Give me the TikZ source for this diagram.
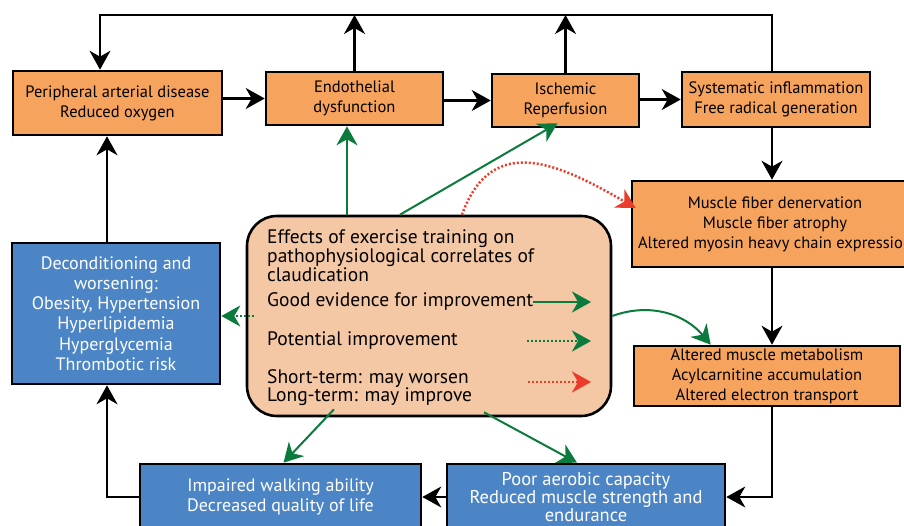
\documentclass[tikz,border=0pt]{standalone}
\usepackage{fontspec}
\setmainfont{PT Sans}
\usetikzlibrary{arrows.meta,calc}
\definecolor{causeorange}{HTML}{F6A35E}
\definecolor{effectpeach}{HTML}{F4C7A5}
\definecolor{outblue}{HTML}{4C85C6}
\definecolor{evgreen}{HTML}{0B7B3D}
\definecolor{worsered}{HTML}{EE3A2B}
\begin{document}
\begin{tikzpicture}
  [x=1pt,y=1pt,
   every node/.style={inner sep=0pt,align=center,font=\fontsize{16.5}{20}\selectfont},
   cause/.style={draw=black,line width=2.6pt,fill=causeorange},
   outcome/.style={draw=black,line width=2.6pt,fill=outblue,text=white},
   legend/.style={anchor=west,align=left,font=\fontsize{19.5}{19}\selectfont},
   tip/.style={-{Stealth[length=19pt,width=21pt,inset=6pt]}},
   blk/.style={tip,line width=2.2pt},
   good/.style={tip,draw=evgreen,line width=2pt},
   maybe/.style={tip,draw=evgreen,line width=2.5pt,dash pattern=on 2pt off 2pt},
   worse/.style={tip,draw=worsered,line width=2.5pt,dash pattern=on 2pt off 2pt}]
  \useasboundingbox (0,0) rectangle (904,525);

  \node[cause,minimum width=209,minimum height=64] (pad) at (117.5,422)
    {Peripheral arterial disease\\Reduced oxygen};
  \node[cause,minimum width=177,minimum height=53] (endo) at (354.5,426.5)
    {Endothelial\\dysfunction};
  \node[cause,minimum width=147,minimum height=53] (isch) at (565.5,424.5)
    {Ischemic\\Reperfusion};
  \node[cause,minimum width=188,minimum height=55] (sys) at (776,425.5)
    {Systematic inflammation\\Free radical generation};
  \node[cause,minimum width=286,minimum height=86] (fiber) at (775,301)
    {Muscle fiber denervation\\Muscle fiber atrophy\\Altered myosin heavy chain expression};
  \node[cause,minimum width=266,minimum height=60] (alt) at (767,149)
    {Altered muscle metabolism\\Acylcarnitine accumulation\\Altered electron transport};
  \node[outcome,minimum width=278,minimum height=66,font=\fontsize{18.5}{18}\selectfont] (poor) at (586,28)
    {Poor aerobic capacity\\Reduced muscle strength and\\endurance};
  \node[outcome,minimum width=281,minimum height=66,font=\fontsize{18}{20}\selectfont] (imp) at (280.5,28)
    {Impaired walking ability\\Decreased quality of life};
  \node[outcome,minimum width=208,minimum height=141,font=\fontsize{18}{20.2}\selectfont] (decond) at (116,211.5)
    {Deconditioning and\\worsening:\\Obesity, Hypertension\\Hyperlipidemia\\Hyperglycemia\\Thrombotic risk};
  \node[draw=black,line width=2.6pt,fill=effectpeach,rounded corners=30pt,
        minimum width=364,minimum height=200] (eff) at (429,209) {};

  \node[legend] (ttl) at (267,269)
    {Effects of exercise training on\\pathophysiological correlates of\\claudication};
  \node[legend] (lgood) at (267,223) {Good evidence for improvement};
  \node[legend] (lmaybe) at (267,184) {Potential improvement};
  \node[legend,font=\fontsize{19.5}{18}\selectfont] (lworse) at (267,137)
    {Short-term: may worsen\\Long-term: may improve};

  \coordinate (loopL) at (100,510);
  \coordinate (loopR) at (772,510);
  \coordinate (rx) at (772,0);
  \coordinate (lx) at (107,0);
  \coordinate (legTip) at (591,0);
  \coordinate (mTail) at (527,184);
  \coordinate (wTail) at (528,143);

  \foreach \from/\to in {pad/endo,endo/isch,isch/sys}
    \draw[blk] (\from.east |- \to) -- (\to.west);
  \foreach \n in {endo,isch}
    \draw[blk] (\n.north) -- (\n.north |- loopR);
  \draw[blk] (sys.north -| loopR) -- (loopR) -- (loopL) -- (loopL |- pad.north);
  \draw[blk] (sys.south -| rx) -- (fiber.north -| rx);
  \draw[blk] (fiber.south -| rx) -- (alt.north -| rx);
  \draw[blk] (alt.south -| rx) |- (poor.east);
  \draw[blk] (poor.west) -- (imp.east);
  \draw[blk] (imp.west) -| (decond.south -| lx);
  \draw[blk] (decond.north -| lx) -- (pad.south -| lx);

  \draw[good] (eff.129) -- (eff.129 |- endo.south);
  \draw[good] (eff.106) -- ($(isch.south)+(-8,5)$);
  \draw[good] (eff.east) to[out=20,in=130] ($(alt.north west)+(78,0)$);
  \draw[good] ($(eff.south)+(-95,8)$) -- ($(imp.north)+(3,0)$);
  \draw[good] ($(eff.south)+(55,5)$) -- ($(poor.north)+(-9,0)$);
  \draw[maybe] ($(eff.west)+(8,0)$) -- (decond.east |- eff.west);
  \draw[worse] (eff.72) to[out=70,in=150,looseness=1.3] ($(fiber.west)+(5,16)$);

  \draw[good] (lgood.east) -- (lgood.east -| legTip);
  \draw[maybe] (mTail) -- (mTail -| legTip);
  \draw[worse] (wTail) -- (wTail -| legTip);
\end{tikzpicture}
\end{document}
